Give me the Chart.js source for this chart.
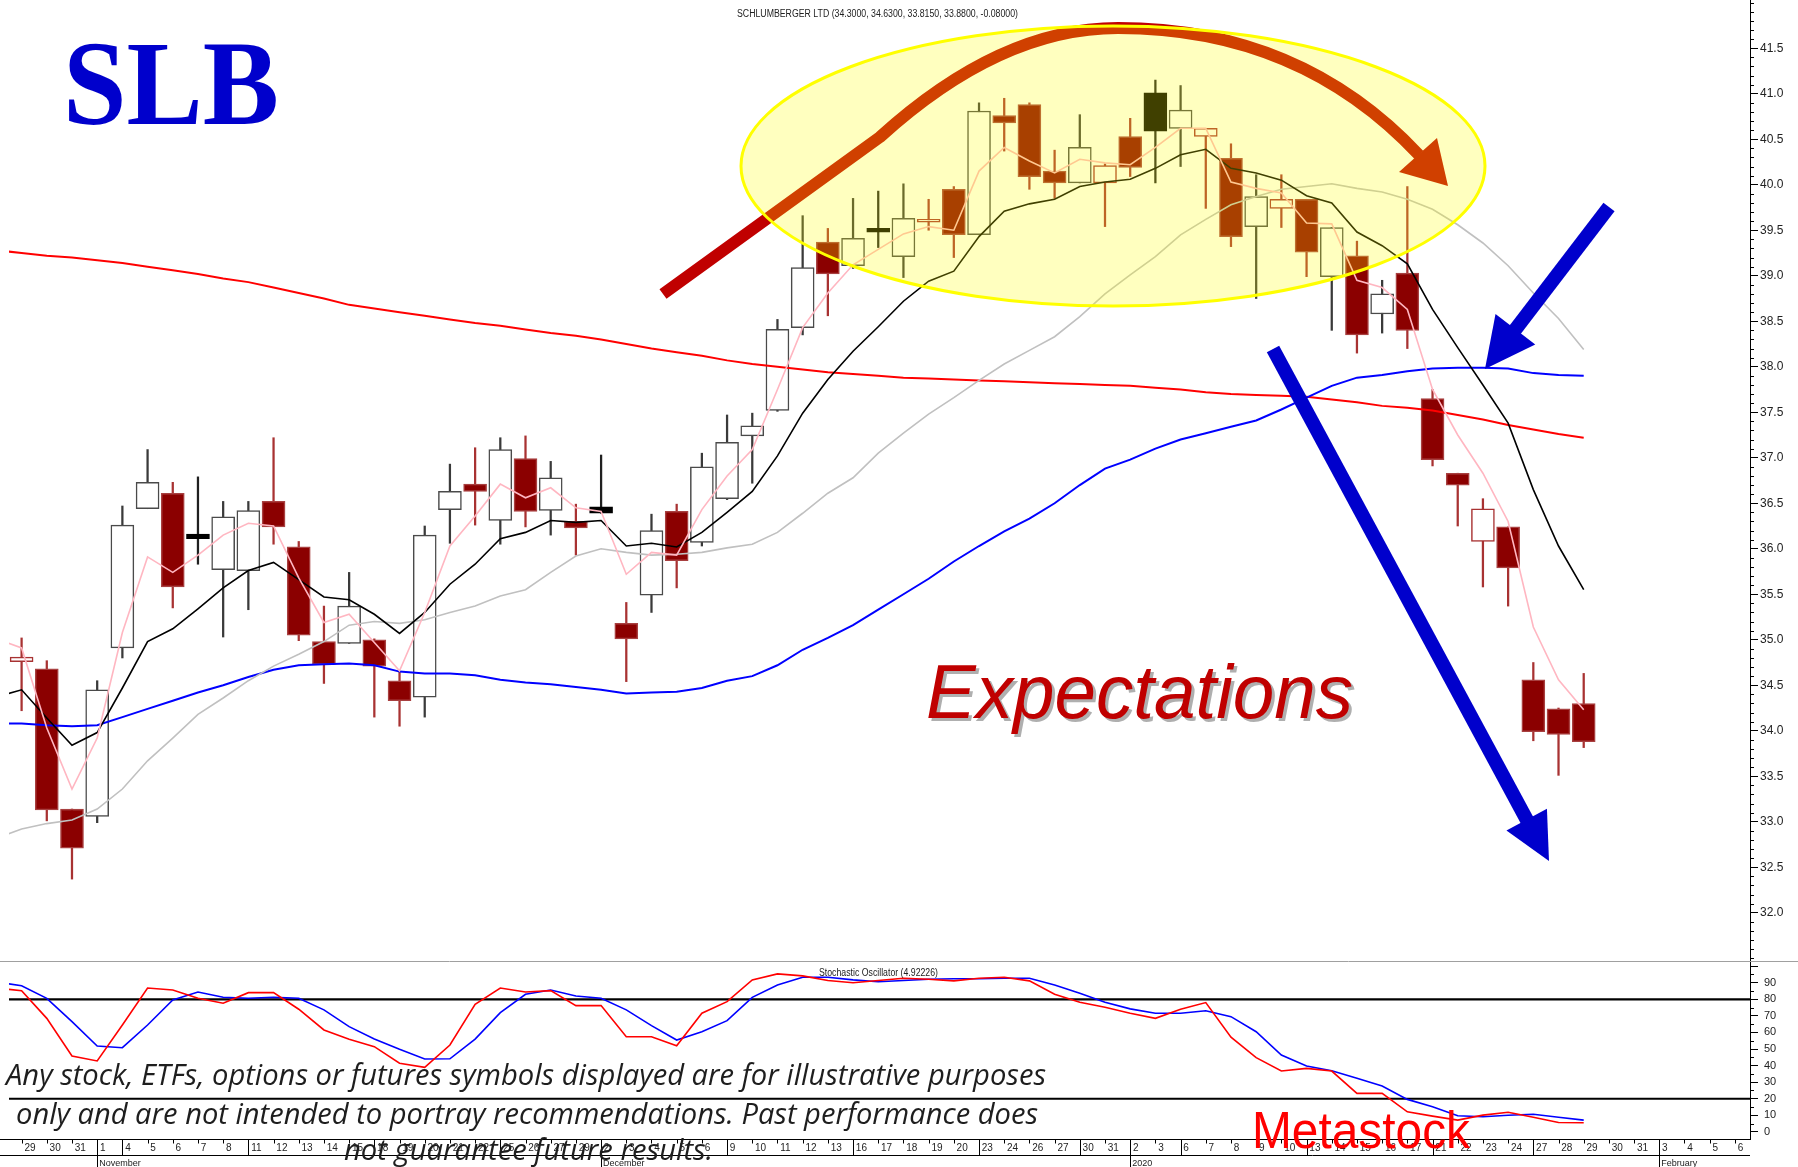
<!DOCTYPE html>
<html lang="en">
<head>
<meta charset="UTF-8">
<title>SLB</title>
<script src="https://cdn.jsdelivr.net/npm/chart.js"></script>
<style>
  body { margin: 0; background: #fff; }
  #wrap { position: relative; width: 1798px; height: 1167px; overflow: hidden; background: #fff; }
  #priceChart { position: absolute; left: 0; top: 0; }
  #stochChart { position: absolute; left: 0; top: 961px; }
</style>
</head>
<body>
<div id="wrap">
  <canvas id="priceChart" width="1798" height="961"></canvas>
  <canvas id="stochChart" width="1798" height="206"></canvas>
</div>
<script>
// ---- data ----
const dayLabels = ['29','30','31','1','4','5','6','7','8','11','12','13','14','15','18','19','20','21','22','25','26','27','29',
  '2','3','4','5','6','9','10','11','12','13','16','17','18','19','20','23','24','26','27','30','31',
  '2','3','6','7','8','9','10','13','14','15','16','17','21','22','23','24','27','28','29','30','31','3','4','5','6'];
const weekStarts = [4, 9, 14, 19, 23, 28, 33, 38, 42, 46, 51, 56, 60, 65];
const monthStarts = [3, 23, 44, 65];
const monthNames = ['November', 'December', '2020', 'February'];

const opens  = [34.76,34.68,33.14,33.06,34.91,36.44,36.61,36.16,35.77,35.76, 36.52,36.02,34.98,34.96,35.00,34.55,34.37,36.43,36.71,36.31,
  36.99,36.42,36.30,36.46,35.18,35.49,36.41,36.07,36.55,37.24, 37.52,38.43,39.37,39.11,39.52,39.21,39.59,39.95,39.45,40.76,
  40.88,40.15,40.02,40.02,40.53,41.01,40.62,40.53,40.29,39.54, 39.74,39.84,38.99,39.22,38.58,39.03,37.65,36.83,36.08,36.24,
  34.56,34.24,34.30];
const highs  = [35.02,34.77,33.14,34.55,36.47,37.09,36.73,36.79,36.52,36.52, 37.22,36.08,35.37,35.74,35.01,34.65,36.25,36.93,37.11,37.22,
  37.24,36.96,36.49,37.03,35.41,36.38,36.49,37.05,37.47,37.49, 38.52,39.66,39.52,39.85,39.93,40.01,39.84,39.98,40.90,40.95,
  40.90,40.38,40.77,40.23,40.73,41.15,41.09,40.62,40.45,40.11, 40.11,39.84,39.53,39.38,38.95,39.98,37.75,36.83,36.55,36.24,
  34.75,34.25,34.63];
const lows   = [34.22,33.01,32.37,32.99,34.80,36.44,35.35,35.83,35.03,35.33, 36.05,34.99,34.52,34.96,34.15,34.05,34.15,36.06,36.26,36.05,
  36.24,36.15,35.93,36.39,34.54,35.30,35.57,36.03,36.54,36.72, 37.51,38.35,38.56,39.08,39.31,38.98,39.50,39.20,39.45,40.37,
  39.95,39.85,40.02,39.54,40.09,40.02,40.20,39.74,39.32,38.75, 39.53,38.99,38.40,38.15,38.37,38.20,36.91,36.25,35.58,35.37,
  33.89,33.51,33.815];
const closes = [34.81,33.13,32.71,34.45,36.26,36.73,35.58,36.11,36.35,36.42, 36.24,35.05,34.73,35.37,34.71,34.33,36.15,36.63,36.63,37.09,
  36.41,36.78,36.23,36.39,35.01,36.20,35.87,36.90,37.17,37.35, 38.41,39.09,39.02,39.41,39.48,39.63,39.62,39.45,40.81,40.68,
  40.09,40.02,40.41,40.21,40.19,40.59,40.82,40.62,39.43,39.87, 39.84,39.26,39.53,38.35,38.80,38.40,36.98,36.70,36.44,35.79,
  33.99,33.96,33.88];
// W = hollow up, R = filled down, K = filled black, H = hollow red
const kinds = 'HRRWWWRKWWRRRWRRWWRWRWRKRWRWWWWWRWKWHRWRRRWHRKWHRWHRWRWRRRHRRRR'.split('');

// averages start one bar before the first candle
const maStart = -1;
const pinkMA  = [35.01, 34.91,34.03,33.36,33.92,35.08,35.91,35.74,35.93,36.15,36.28, 36.25,35.68,35.19,35.28,34.97,34.66,35.30,36.03,36.36,36.71,
  36.56,36.67,36.45,36.41,35.72,35.96,35.93,36.43,36.80,37.09, 37.75,38.43,38.81,39.12,39.29,39.46,39.54,39.50,40.15,40.41,
  40.26,40.13,40.28,40.24,40.22,40.41,40.62,40.62,40.03,39.96, 39.91,39.58,39.57,38.95,38.87,38.63,37.75,37.25,36.83,36.30,
  35.14,34.56,34.23];
const blackMA = [34.37, 34.45,34.14,33.84,33.98,34.47,34.98,35.12,35.34,35.57,35.76, 35.85,35.66,35.47,35.44,35.28,35.07,35.30,35.61,35.83,36.11,
  36.18,36.31,36.29,36.31,36.03,36.06,36.02,36.18,36.40,36.63, 37.02,37.49,37.86,38.17,38.44,38.72,38.94,39.05,39.43,39.71,
  39.79,39.84,39.98,40.03,40.06,40.18,40.33,40.39,40.18,40.13, 40.05,39.88,39.80,39.48,39.33,39.13,38.63,38.21,37.80,37.38,
  36.65,36.03,35.55];
const grayMA  = [32.82, 32.92,32.98,33.02,33.14,33.36,33.67,33.92,34.18,34.36,34.55, 34.71,34.84,34.98,35.16,35.20,35.18,35.22,35.30,35.37,35.48,
  35.55,35.74,35.92,36.00,35.96,35.93,35.94,35.96,36.01,36.05, 36.18,36.39,36.61,36.78,37.05,37.27,37.48,37.66,37.85,38.03,
  38.18,38.33,38.55,38.80,39.01,39.21,39.45,39.62,39.78,39.87, 39.95,39.98,40.01,39.96,39.92,39.84,39.73,39.56,39.36,39.11,
  38.81,38.53,38.19];
const blueMA  = [34.08, 34.08,34.06,34.05,34.06,34.15,34.24,34.33,34.42,34.50,34.59, 34.67,34.72,34.73,34.74,34.72,34.65,34.63,34.63,34.61,34.56,
  34.53,34.51,34.48,34.45,34.41,34.42,34.43,34.47,34.55,34.60, 34.72,34.89,35.02,35.16,35.33,35.50,35.67,35.86,36.03,36.19,
  36.33,36.50,36.70,36.88,36.98,37.10,37.20,37.27,37.34,37.41, 37.53,37.66,37.79,37.88,37.91,37.95,37.98,37.99,37.99,37.98,
  37.93,37.91,37.90];
const redMA   = [39.28, 39.25,39.22,39.20,39.17,39.14,39.10,39.06,39.02,38.97,38.93, 38.87,38.81,38.75,38.68,38.64,38.60,38.56,38.52,38.48,38.45,
  38.41,38.37,38.34,38.30,38.25,38.20,38.16,38.12,38.07,38.03, 38.00,37.97,37.94,37.92,37.90,37.88,37.87,37.86,37.85,37.84,
  37.83,37.82,37.81,37.80,37.79,37.77,37.75,37.72,37.70,37.69, 37.68,37.67,37.64,37.61,37.57,37.55,37.52,37.47,37.42,37.36,
  37.31,37.26,37.22];

const stochK = [86.8, 85.2,68.5,45.8,42.8,64.5,86.8,85.6,80.6,77.6,84.0, 84.0,74.0,61.5,55.9,51.4,41.4,38.9,52.4,77.0,86.8,
  84.4,85.2,76.2,76.2,57.4,57.4,52.0,71.6,78.6,91.7, 95.3,94.1,91.3,90.0,91.3,92.7,92.1,91.1,92.7,93.3,
  91.1,83.0,78.2,75.2,71.6,68.5,74.0,78.0,57.1,44.8, 36.7,38.3,36.7,23.2,23.2,12.1,9.5,7.1,10.1,11.8,
  8.8,5.7,5.5];
const stochD = [90.4, 88.2,80.6,66.5,51.8,50.8,64.5,79.6,84.4,81.2,80.6, 81.2,80.6,73.6,63.5,56.0,49.8,44.0,44.1,56.0,71.9,
  83.0,85.6,82.0,80.6,73.6,64.1,55.4,60.4,67.1,81.2, 88.6,93.3,93.3,91.7,90.6,91.3,92.1,92.4,92.4,92.7,
  92.7,88.6,83.6,78.2,74.2,71.6,71.6,73.1,69.5,60.4, 46.4,39.7,36.9,32.3,27.7,19.6,15.2,9.7,9.1,10.0,
  10.6,8.8,7.1];
const stochLevels = [80, 20];

const priceTicks = [32.0,32.5,33.0,33.5,34.0,34.5,35.0,35.5,36.0,36.5,37.0,37.5,38.0,38.5,39.0,39.5,40.0,40.5,41.0,41.5];
const stochTicks = [0,10,20,30,40,50,60,70,80,90];

// ---- styling ----
const narrow = "'Liberation Sans Narrow', 'Liberation Sans', Arial, sans-serif";
const bodyFill = { W: '#ffffff', H: '#ffffff', R: '#8b0000', K: '#000000' };
const bodyEdge = { W: '#4a4a4a', H: '#a83232', R: '#a84040', K: '#000000' };
const wickColor = { W: '#3a3a3a', H: '#a83232', R: '#a83232', K: '#202020' };
const X_MIN = -0.5, X_MAX = 68.6;

const idx = opens.map((_, k) => k);
const maPoints = arr => arr.map((v, k) => ({ x: k + maStart, y: v }));
const pick = (map, c) => c.dataIndex == null ? '#000' : map[kinds[c.dataIndex]];

function seg(ctx, x0, y0, x1, y1) {
  ctx.beginPath(); ctx.moveTo(x0, y0); ctx.lineTo(x1, y1); ctx.stroke();
}

// draw text squeezed/stretched to a given width
function fitText(ctx, text, x, y, w, font, color) {
  ctx.save();
  ctx.font = font;
  const m = ctx.measureText(text).width;
  ctx.translate(x, y);
  ctx.scale(w / m, 1);
  ctx.fillStyle = color;
  ctx.textBaseline = 'alphabetic';
  ctx.fillText(text, 0, 0);
  ctx.restore();
}

function arrow(ctx, x0, y0, tx, ty, shaft, headLen, headHalf, color) {
  const dx = tx - x0, dy = ty - y0, len = Math.hypot(dx, dy);
  const ux = dx / len, uy = dy / len;
  const bx = tx - ux * headLen, by = ty - uy * headLen;
  ctx.strokeStyle = color; ctx.fillStyle = color;
  ctx.lineWidth = shaft; ctx.lineCap = 'butt';
  seg(ctx, x0, y0, bx + ux * 2, by + uy * 2);
  ctx.beginPath();
  ctx.moveTo(tx, ty);
  ctx.lineTo(bx - uy * headHalf, by + ux * headHalf);
  ctx.lineTo(bx + uy * headHalf, by - ux * headHalf);
  ctx.closePath(); ctx.fill();
}

const priceDecor = {
  id: 'priceDecor',
  afterDraw(chart) {
    const { ctx, chartArea: a, scales: { y } } = chart;
    ctx.save();
    // minor ticks every 0.1
    ctx.strokeStyle = '#000'; ctx.lineWidth = 1;
    for (let k = 315; k <= 420; k++) {
      if (k % 5 === 0 && k >= 320 && k <= 415) continue;
      const py = Math.round(y.getPixelForValue(k / 10)) + 0.5;
      seg(ctx, a.right, py, a.right + 4, py);
    }
    // curved red arrow, under the yellow highlight
    ctx.strokeStyle = '#c00000'; ctx.lineWidth = 12; ctx.lineCap = 'butt'; ctx.lineJoin = 'round';
    ctx.beginPath();
    ctx.moveTo(663, 294);
    ctx.lineTo(880, 137);
    ctx.quadraticCurveTo(1000, 28, 1118, 28);
    ctx.quadraticCurveTo(1300, 28, 1419, 155);
    ctx.stroke();
    ctx.fillStyle = '#c00000';
    ctx.beginPath(); ctx.moveTo(1448, 186); ctx.lineTo(1437, 138); ctx.lineTo(1399, 172); ctx.closePath(); ctx.fill();
    // yellow highlight
    ctx.beginPath(); ctx.ellipse(1113, 166, 372, 140, 0, 0, Math.PI * 2);
    ctx.fillStyle = 'rgba(255,255,0,0.25)'; ctx.fill();
    ctx.strokeStyle = '#ffff00'; ctx.lineWidth = 3; ctx.stroke();
    // blue arrows
    arrow(ctx, 1609, 207, 1485, 369, 14, 50, 25, '#0000cc');
    arrow(ctx, 1273, 349, 1549, 861, 14, 47, 23, '#0000cc');
    // texts
    fitText(ctx, 'SLB', 63, 124, 216, "bold 120px 'Liberation Serif', serif", '#0000cc');
    fitText(ctx, 'Expectations', 929, 721, 427, "italic 76px 'Liberation Sans', Arial, sans-serif", 'rgba(110,110,110,0.55)');
    fitText(ctx, 'Expectations', 926, 718, 427, "italic 76px 'Liberation Sans', Arial, sans-serif", '#c00000');
    fitText(ctx, 'SCHLUMBERGER LTD (34.3000, 34.6300, 33.8150, 33.8800, -0.08000)', 737, 17, 281, '10px ' + narrow, '#222');
    ctx.restore();
  }
};

const stochDecor = {
  id: 'stochDecor',
  afterDraw(chart) {
    const { ctx, chartArea: a, scales: { x, y } } = chart;
    ctx.save();
    ctx.lineWidth = 1;
    ctx.strokeStyle = '#a0a0a0';
    seg(ctx, 0, 0.5, chart.width, 0.5);
    ctx.strokeStyle = '#000';
    for (let v = 5; v <= 100; v += 10) {
      const py = Math.round(y.getPixelForValue(v)) + 0.5;
      seg(ctx, a.right, py, a.right + 4, py);
    }
    const py100 = Math.round(y.getPixelForValue(100)) + 0.5;
    seg(ctx, a.right, py100, a.right + 8, py100);
    // date rows
    const top = Math.round(a.bottom) + 0.5;
    const rowBottom = top + 16;
    seg(ctx, 0, top, a.right, top);
    seg(ctx, 0, rowBottom, a.right, rowBottom);
    dayLabels.forEach((_, k) => {
      const px = Math.round(x.getPixelForValue(k)) + 0.5;
      let end = top + 4;
      if (weekStarts.includes(k)) end = rowBottom;
      if (monthStarts.includes(k)) end = chart.height;
      seg(ctx, px, top, px, end);
    });
    ctx.fillStyle = '#222';
    ctx.font = '9px ' + narrow;
    ctx.textBaseline = 'alphabetic';
    monthStarts.forEach((k, m) => ctx.fillText(monthNames[m], x.getPixelForValue(k) + 2, rowBottom + 10));
    // panel title
    fitText(ctx, 'Stochastic Oscillator (4.92226)', 819, 15, 119, '10px ' + narrow, '#222');
    // disclaimer and source
    const disc = "italic 29px 'Open Sans', 'DejaVu Sans', sans-serif";
    fitText(ctx, 'Any stock, ETFs, options or futures symbols displayed are for illustrative purposes', 6, 124, 1040, disc, '#1e1e1e');
    fitText(ctx, 'only and are not intended to portray recommendations. Past performance does', 16, 163, 1022, disc, '#1e1e1e');
    fitText(ctx, 'not guarantee future results.', 344, 199, 369, disc, '#1e1e1e');
    fitText(ctx, 'Metastock', 1252, 187, 218, "52px 'Liberation Sans', Arial, sans-serif", '#ff0000');
    ctx.restore();
  }
};

// ---- price panel ----
new Chart(document.getElementById('priceChart'), {
  type: 'bar',
  data: {
    datasets: [
      { type: 'line', data: maPoints(pinkMA), borderColor: '#ffb6c1', borderWidth: 1.6, pointRadius: 0, tension: 0, order: 1 },
      { type: 'line', data: maPoints(blackMA), borderColor: '#000000', borderWidth: 1.6, pointRadius: 0, tension: 0, order: 2 },
      { type: 'line', data: maPoints(grayMA), borderColor: '#c0c0c0', borderWidth: 1.6, pointRadius: 0, tension: 0, order: 3 },
      { type: 'line', data: maPoints(blueMA), borderColor: '#0000ff', borderWidth: 2, pointRadius: 0, tension: 0, order: 4 },
      { type: 'line', data: maPoints(redMA), borderColor: '#ff0000', borderWidth: 2, pointRadius: 0, tension: 0, order: 5 },
      {
        type: 'bar', data: idx.map(k => ({ x: k, y: [opens[k], closes[k]] })),
        barThickness: 23, grouped: false, borderSkipped: false, borderWidth: 1.5,
        backgroundColor: c => pick(bodyFill, c), borderColor: c => pick(bodyEdge, c), order: 10
      },
      {
        type: 'bar', data: idx.map(k => ({ x: k, y: [lows[k], highs[k]] })),
        barThickness: 1.6, grouped: false, borderWidth: 0,
        backgroundColor: c => pick(wickColor, c), order: 11
      }
    ]
  },
  options: {
    responsive: false, animation: false, events: [],
    layout: { padding: { left: 9, right: 0, top: 0, bottom: 0 } },
    plugins: { legend: { display: false }, tooltip: { enabled: false } },
    scales: {
      x: { type: 'linear', display: false, offset: false, min: X_MIN, max: X_MAX },
      y: {
        position: 'right', min: 31.47, max: 42.03,
        afterBuildTicks(s) { s.ticks = priceTicks.map(v => ({ value: v })); },
        afterFit(s) { s.width = 48; s.paddingTop = 0; s.paddingBottom = 0; },
        border: { display: true, color: '#000', width: 1 },
        grid: { drawOnChartArea: false, drawTicks: true, tickLength: 8, tickColor: '#000' },
        ticks: { padding: 2, color: '#222', font: { size: 12, family: narrow }, callback: v => Number(v).toFixed(1) }
      }
    }
  },
  plugins: [priceDecor]
});

// ---- stochastic panel ----
new Chart(document.getElementById('stochChart'), {
  type: 'line',
  data: {
    datasets: [
      { data: maPoints(stochK), borderColor: '#ff0000', borderWidth: 1.6, pointRadius: 0, tension: 0, order: 1 },
      { data: maPoints(stochD), borderColor: '#0000ff', borderWidth: 1.6, pointRadius: 0, tension: 0, order: 2 },
      ...stochLevels.map(v => ({
        data: [{ x: X_MIN, y: v }, { x: X_MAX, y: v }],
        borderColor: '#000', borderWidth: 2.2, pointRadius: 0, order: 3
      }))
    ]
  },
  options: {
    responsive: false, animation: false, events: [],
    layout: { padding: { left: 9, right: 0, top: 0, bottom: 0 } },
    plugins: { legend: { display: false }, tooltip: { enabled: false } },
    scales: {
      x: {
        type: 'linear', offset: false, min: X_MIN, max: X_MAX,
        afterBuildTicks(s) { s.ticks = dayLabels.map((_, k) => ({ value: k })); },
        afterFit(s) { s.height = 28; s.paddingLeft = 0; s.paddingRight = 0; },
        border: { display: true, color: '#000' },
        grid: { drawOnChartArea: false, drawTicks: false },
        ticks: {
          autoSkip: false, maxRotation: 0, minRotation: 0, align: 'start', padding: 3,
          color: '#222', font: { size: 10, family: narrow }, callback: v => ' ' + dayLabels[v]
        }
      },
      y: {
        position: 'right', min: -4.3, max: 103.1,
        afterBuildTicks(s) { s.ticks = stochTicks.map(v => ({ value: v })); },
        afterFit(s) { s.width = 48; s.paddingTop = 0; s.paddingBottom = 0; },
        border: { display: true, color: '#000' },
        grid: { drawOnChartArea: false, drawTicks: true, tickLength: 8, tickColor: '#000' },
        ticks: { padding: 6, color: '#222', font: { size: 11, family: narrow } }
      }
    }
  },
  plugins: [stochDecor]
});
</script>
</body>
</html>
